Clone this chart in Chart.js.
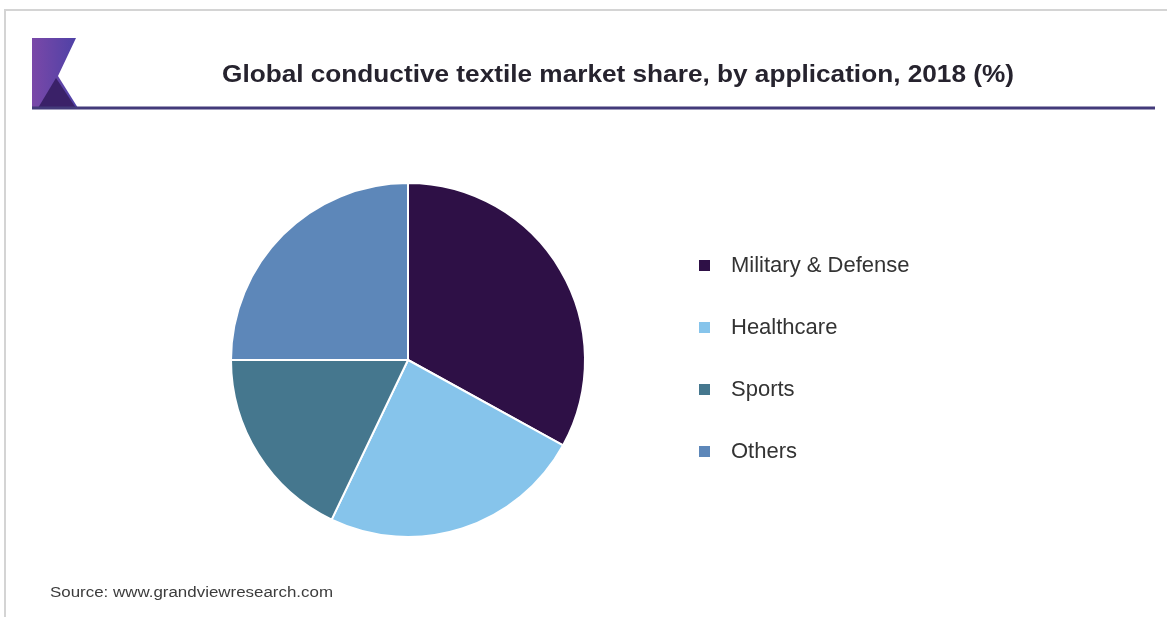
<!DOCTYPE html>
<html>
<head>
<meta charset="utf-8">
<title>Global conductive textile market share, by application, 2018 (%)</title>
<script src="https://cdn.jsdelivr.net/npm/chart.js@4.4.1/dist/chart.umd.min.js"></script>
<style>
  html, body { margin: 0; padding: 0; background: #fff; }
  #wrap { width: 1167px; height: 617px; position: relative; }
</style>
</head>
<body>
<div id="wrap"><canvas id="chart" width="1167" height="617"></canvas></div>
<script>
const categories = ['Military & Defense', 'Healthcare', 'Sports', 'Others']
const shares = [33.0, 24.1, 17.9, 25.0]
const chartTitle = 'Global conductive textile market share, by application, 2018 (%)'
const sourceNote = 'Source: www.grandviewresearch.com'

const sliceColors = ['#2e1046', '#86c4eb', '#45778e', '#5d87b9']

// draws text squeezed/stretched to a given width
function fitText(ctx, text, x, y, width) {
  const w = ctx.measureText(text).width
  ctx.save()
  ctx.translate(x, y)
  ctx.scale(width / w, 1)
  ctx.fillText(text, 0, 0)
  ctx.restore()
}

// frame, logo, title, legend and source note
const decor = {
  id: 'decor',
  beforeDraw(chart) {
    const ctx = chart.ctx
    ctx.save()
    ctx.fillStyle = '#fff'
    ctx.fillRect(0, 0, chart.width, chart.height)

    // outer frame (top and left edges)
    ctx.strokeStyle = '#d4d4d4'
    ctx.lineWidth = 2
    ctx.beginPath()
    ctx.moveTo(1167, 10)
    ctx.lineTo(5, 10)
    ctx.lineTo(5, 617)
    ctx.stroke()

    // logo
    const g = ctx.createLinearGradient(32, 0, 78, 0)
    g.addColorStop(0, '#7a48a8')
    g.addColorStop(1, '#4d41a6')
    ctx.fillStyle = g
    ctx.beginPath()
    ctx.moveTo(32, 38)
    ctx.lineTo(76, 38)
    ctx.lineTo(58, 76)
    ctx.lineTo(78, 108)
    ctx.lineTo(32, 108)
    ctx.closePath()
    ctx.fill()
    ctx.fillStyle = '#3a2168'
    ctx.beginPath()
    ctx.moveTo(38, 108)
    ctx.lineTo(56, 78)
    ctx.lineTo(76, 108)
    ctx.closePath()
    ctx.fill()

    // rule under the title
    ctx.strokeStyle = '#433a7a'
    ctx.lineWidth = 3
    ctx.beginPath()
    ctx.moveTo(32, 108)
    ctx.lineTo(1155, 108)
    ctx.stroke()

    // title
    ctx.fillStyle = '#26232e'
    ctx.font = 'bold 24px "Liberation Sans", Arial, sans-serif'
    ctx.textBaseline = 'alphabetic'
    fitText(ctx, chartTitle, 222, 82, 792)

    // source
    ctx.fillStyle = '#3c3c3c'
    ctx.font = '14px "Liberation Sans", Arial, sans-serif'
    fitText(ctx, sourceNote, 50, 597, 283)
    ctx.restore()
  },
  afterDraw(chart) {
    const ctx = chart.ctx
    const colors = chart.data.datasets[0].backgroundColor
    ctx.save()
    ctx.font = '22px "Liberation Sans", Arial, sans-serif'
    ctx.textBaseline = 'middle'
    chart.data.labels.forEach((label, i) => {
      const y = 265 + i * 62
      ctx.fillStyle = colors[i]
      ctx.fillRect(699, y - 5, 11, 11)
      ctx.fillStyle = '#333'
      ctx.fillText(label, 731, y + 1)
    })
    ctx.restore()
  }
}

new Chart(document.getElementById('chart'), {
  type: 'pie',
  data: {
    labels: categories,
    datasets: [{
      data: shares,
      backgroundColor: sliceColors,
      borderColor: '#fff',
      borderWidth: 2
    }]
  },
  options: {
    responsive: false,
    animation: false,
    layout: {
      padding: { left: 230, right: 581, top: 182, bottom: 79 }
    },
    plugins: {
      legend: { display: false },
      tooltip: { enabled: false }
    }
  },
  plugins: [decor]
})
</script>
</body>
</html>
